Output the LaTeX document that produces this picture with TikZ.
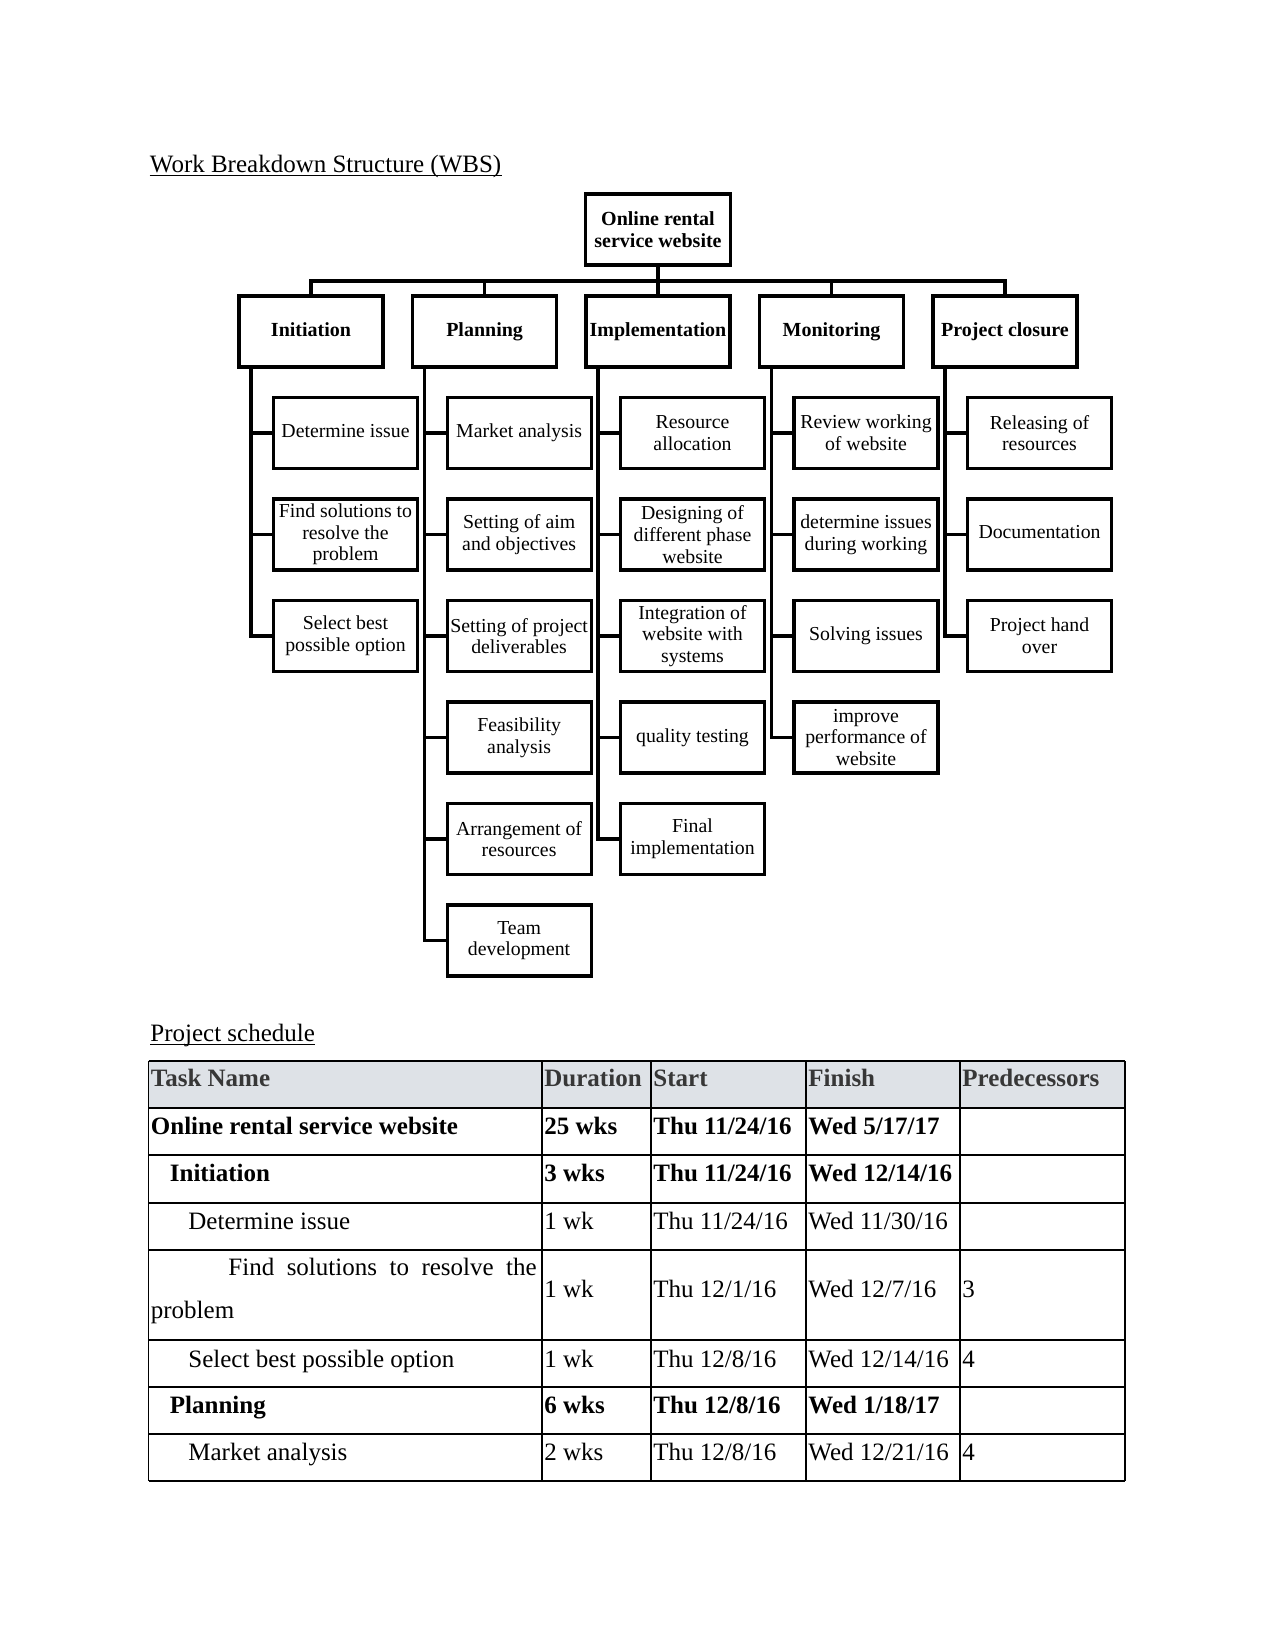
\documentclass[tikz,border=0pt]{standalone}
\usepackage{fontspec}
\setmainfont{Liberation Serif}
\usetikzlibrary{calc}
\definecolor{hdrfill}{RGB}{222,226,231}
\definecolor{hdrtext}{RGB}{55,55,55}
\begin{document}
\begin{tikzpicture}[x=0.48pt,y=-0.48pt,
  wbs/.style={draw, line width=1.5pt, minimum width={144*0.48pt}, minimum height={71*0.48pt},
    inner sep=0pt, align=center, font=\fontsize{9.5}{10.4}\selectfont},
  topbox/.style={wbs, font=\fontsize{9.6}{10.6}\selectfont\bfseries},
  conn/.style={line width=1.5pt},
  tbl/.style={line width=0.5pt},
  cell/.style={anchor=base west, inner sep=0pt, font=\fontsize{12}{14}\selectfont},
  bcell/.style={cell, font=\fontsize{12}{14}\selectfont\bfseries},
  hcell/.style={bcell, text=hdrtext}]
\useasboundingbox (0,0) rectangle (1275,1650);

% ---------- title ----------
\node[cell] (title) at (149.5,172.5) {Work Breakdown Structure (WBS)};
\draw[line width=0.6pt] ([yshift=-1.4pt]title.base west) -- ([yshift=-1.4pt]title.base east);

% ---------- WBS ----------
\node[topbox, minimum width={145*0.48pt}] (root) at (658,229.5) {Online rental\\service website};

\node[topbox] (ini) at (311,331.5) {Initiation\vphantom{g}};
\node[topbox] (pla) at (484.6,331.5) {Planning};
\node[topbox] (imp) at (658,331.5) {Implementation};
\node[topbox] (mon) at (831.5,331.5) {Monitoring};
\node[topbox] (clo) at (1005,331.5) {Project closure};

\coordinate (bus) at (658,281);
\foreach \n in {ini,pla,imp,mon,clo}
  \draw[conn] (root.south) -- (root.south |- bus) -| (\n.north);

% Initiation children
\node[wbs] (ini1) at (345.5,433) {Determine issue\vphantom{g}};
\node[wbs] (ini2) at (345.5,534.5) {Find solutions to\\resolve the\\problem};
\node[wbs] (ini3) at (345.5,636) {Select best\\possible option};
% Planning children
\node[wbs] (pla1) at (519.1,433) {Market analysis};
\node[wbs] (pla2) at (519.1,534.5) {Setting of aim\\and objectives};
\node[wbs] (pla3) at (519.1,636) {Setting of project\\deliverables};
\node[wbs] (pla4) at (519.1,737.5) {Feasibility\\analysis};
\node[wbs] (pla5) at (519.1,839) {Arrangement of\\resources};
\node[wbs] (pla6) at (519.1,940.5) {Team\\development};
% Implementation children
\node[wbs] (imp1) at (692.5,433) {Resource\\allocation};
\node[wbs] (imp2) at (692.5,534.5) {Designing of\\different phase\\website};
\node[wbs] (imp3) at (692.5,636) {Integration of\\website with\\systems};
\node[wbs] (imp4) at (692.5,737.5) {quality testing};
\node[wbs] (imp5) at (692.5,839) {Final\\implementation};
% Monitoring children
\node[wbs] (mon1) at (866,433) {Review working\\of website};
\node[wbs] (mon2) at (866,534.5) {determine issues\\during working};
\node[wbs] (mon3) at (866,636) {Solving issues};
\node[wbs] (mon4) at (866,737.5) {improve\\performance of\\website};
% Closure children
\node[wbs] (clo1) at (1039.5,433) {Releasing of\\resources};
\node[wbs] (clo2) at (1039.5,534.5) {Documentation\vphantom{g}};
\node[wbs] (clo3) at (1039.5,636) {Project hand\\over};

% spines
\foreach \p/\k in {ini/3,pla/6,imp/5,mon/4,clo/3}{
  \coordinate (s\p) at ($(\p.south west)+(13.5,0)$);
  \foreach \i in {1,...,\k}
    \draw[conn] (s\p) |- (\p\i.west);
}

% ---------- schedule ----------
\node[cell] (sched) at (150,1041.5) {Project schedule~};
\draw[line width=0.6pt] ([yshift=-1.4pt]sched.base west) -- ([yshift=-1.4pt]sched.base east);

\fill[hdrfill] (148.5,1061) rectangle (1125,1108);
\foreach \y in {1061,1108,1155,1203,1250,1340,1387,1434,1481}
  \draw[tbl] (148.5,\y) -- (1125,\y);
\foreach \x in {148.5,542,651,806,960,1125}
  \draw[tbl] (\x,1061) -- (\x,1481);

% header
\node[hcell] (h1) at (150.5,1086) {Task Name};
\node[hcell] (h2) at (544,1086) {Duration};
\node[hcell] (h3) at (653,1086) {Start};
\node[hcell] (h4) at (808,1086) {Finish};
\node[hcell] (h5) at (962,1086) {Predecessors};
% row 1
\node[bcell] (a1) at (150.5,1134) {Online rental service website};
\node[bcell] (a2) at (544,1134) {25 wks};
\node[bcell] (a3) at (653,1134) {Thu 11/24/16};
\node[bcell] (a4) at (808,1134) {Wed 5/17/17};
% row 2
\node[bcell] (b1) at (169.5,1181) {Initiation};
\node[bcell] (b2) at (544,1181) {3 wks};
\node[bcell] (b3) at (653,1181) {Thu 11/24/16};
\node[bcell] (b4) at (808,1181) {Wed 12/14/16};
% row 3
\node[cell] (c1) at (188,1229) {Determine issue};
\node[cell] (c2) at (544,1229) {1 wk};
\node[cell] (c3) at (653,1229) {Thu 11/24/16};
\node[cell] (c4) at (808,1229) {Wed 11/30/16};
% row 4
\node[cell] (d1) at (228,1275) {\hbox to 148pt{Find\hfill solutions\hfill to\hfill resolve\hfill the}};
\node[cell] (d1b) at (150.5,1318) {problem};
\node[cell] (d2) at (544,1297) {1 wk};
\node[cell] (d3) at (653,1297) {Thu 12/1/16};
\node[cell] (d4) at (808,1297) {Wed 12/7/16};
\node[cell] (d5) at (962,1297) {3};
% row 5
\node[cell] (e1) at (188,1367) {Select best possible option};
\node[cell] (e2) at (544,1367) {1 wk};
\node[cell] (e3) at (653,1367) {Thu 12/8/16};
\node[cell] (e4) at (808,1367) {Wed 12/14/16};
\node[cell] (e5) at (962,1367) {4};
% row 6
\node[bcell] (f1) at (169.5,1413) {Planning};
\node[bcell] (f2) at (544,1413) {6 wks};
\node[bcell] (f3) at (653,1413) {Thu 12/8/16};
\node[bcell] (f4) at (808,1413) {Wed 1/18/17};
% row 7
\node[cell] (g1) at (188,1460) {Market analysis};
\node[cell] (g2) at (544,1460) {2 wks};
\node[cell] (g3) at (653,1460) {Thu 12/8/16};
\node[cell] (g4) at (808,1460) {Wed 12/21/16};
\node[cell] (g5) at (962,1460) {4};
\end{tikzpicture}
\end{document}
